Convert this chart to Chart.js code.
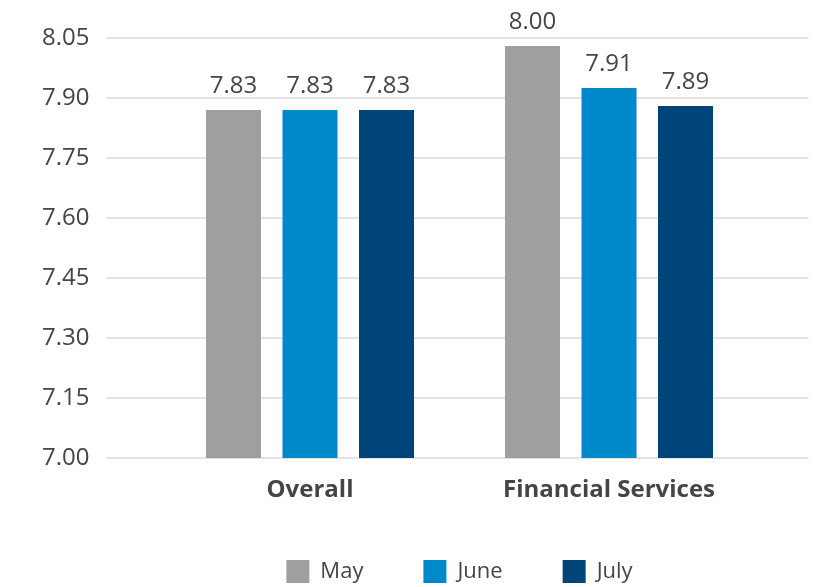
<!DOCTYPE html>
<html>
<head>
<meta charset="utf-8">
<script src="https://cdn.jsdelivr.net/npm/chart.js@4/dist/chart.umd.min.js"></script>
<style>
  html, body { margin: 0; padding: 0; background: #fff; }
</style>
</head>
<body>
<canvas id="scoreChart" width="823" height="587"></canvas>
<script>
const categories = ['Overall', 'Financial Services'];
const seriesNames = ['May', 'June', 'July'];

// bar heights as drawn in the picture
const mayValues = [7.87, 8.03];
const juneValues = [7.87, 7.925];
const julyValues = [7.87, 7.88];

// the numbers printed above the bars
const mayLabels = ['7.83', '8.00'];
const juneLabels = ['7.83', '7.91'];
const julyLabels = ['7.83', '7.89'];

const yMin = 7.00;
const yMax = 8.05;
const yStep = 0.15;

const seriesColors = ['#9f9f9f', '#0089ca', '#00457a'];
const textColor = '#454545';

// grid lines run wider than the bar area
const extendedGrid = {
  id: 'extendedGrid',
  beforeDatasetsDraw(chart) {
    const {ctx, chartArea, scales: {y}} = chart;
    ctx.save();
    ctx.strokeStyle = '#dadada';
    ctx.lineWidth = 1.3;
    y.ticks.forEach(t => {
      const py = y.getPixelForValue(t.value);
      ctx.beginPath();
      ctx.moveTo(chartArea.left - 54, py);
      ctx.lineTo(chartArea.right + 50, py);
      ctx.stroke();
    });
    ctx.restore();
  }
};

const barValueLabels = {
  id: 'barValueLabels',
  afterDatasetsDraw(chart) {
    const {ctx} = chart;
    ctx.save();
    ctx.font = '24px "Open Sans"';
    ctx.fillStyle = textColor;
    ctx.textAlign = 'center';
    ctx.textBaseline = 'alphabetic';
    chart.data.datasets.forEach((ds, i) => {
      chart.getDatasetMeta(i).data.forEach((bar, j) => {
        ctx.fillText(ds.shownLabels[j], bar.x, bar.y - 17);
      });
    });
    ctx.restore();
  }
};

function makeDataset(name, values, labels, color) {
  return {
    label: name,
    data: values,
    shownLabels: labels,
    backgroundColor: color,
    borderWidth: 0,
    categoryPercentage: 0.7676,
    barPercentage: 0.719
  };
}

Chart.defaults.font.family = '"Open Sans", sans-serif';

new Chart(document.getElementById('scoreChart').getContext('2d'), {
  type: 'bar',
  data: {
    labels: categories,
    datasets: [
      makeDataset(seriesNames[0], mayValues, mayLabels, seriesColors[0]),
      makeDataset(seriesNames[1], juneValues, juneLabels, seriesColors[1]),
      makeDataset(seriesNames[2], julyValues, julyLabels, seriesColors[2])
    ]
  },
  options: {
    responsive: false,
    animation: false,
    layout: {
      padding: { top: 38, right: 64.5, left: 42, bottom: -6 }
    },
    scales: {
      x: {
        grid: { display: false, drawTicks: false },
        border: { display: false },
        ticks: {
          padding: 18,
          color: textColor,
          font: { size: 24, weight: 'bold' }
        },
        afterFit(scale) { scale.height = 42; }
      },
      y: {
        min: yMin,
        max: yMax,
        grid: { display: false, drawTicks: false },
        border: { display: false },
        ticks: {
          stepSize: yStep,
          padding: 3,
          crossAlign: 'far',
          color: textColor,
          font: { size: 24 },
          callback: v => Number(v).toFixed(2)
        },
        afterFit(scale) { scale.width = 118.5; }
      }
    },
    plugins: {
      legend: {
        position: 'bottom',
        fullSize: false,
        labels: {
          boxWidth: 23,
          boxHeight: 23,
          padding: 60,
          color: textColor,
          font: { size: 22 }
        }
      },
      tooltip: { enabled: false }
    }
  },
  plugins: [extendedGrid, barValueLabels]
});
</script>
</body>
</html>
